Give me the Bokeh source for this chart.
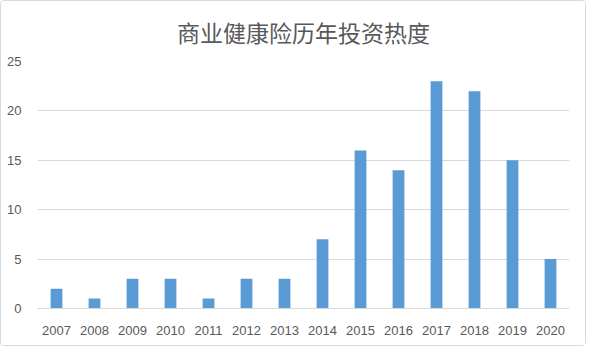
from bokeh.plotting import figure
from bokeh.models import ColumnDataSource, FactorRange, Range1d, FixedTicker
from bokeh.embed import file_html
from bokeh.resources import INLINE

years = ["2007", "2008", "2009", "2010", "2011", "2012", "2013",
         "2014", "2015", "2016", "2017", "2018", "2019", "2020"]
counts = [2, 1, 3, 3, 1, 3, 3, 7, 16, 14, 23, 22, 15, 5]
y_ticks = [0, 5, 10, 15, 20, 25]
title_text = "商业健康险历年投资热度"

src = ColumnDataSource(data=dict(year=years, count=counts))

p = figure(width=586, height=346, output_backend="svg", toolbar_location=None,
           x_range=FactorRange(*years), y_range=Range1d(0, 25),
           title=title_text)
p.min_border_left = 36
p.min_border_right = 18
p.min_border_top = 60
p.min_border_bottom = 39
p.outline_line_color = None
p.background_fill_color = "white"
p.border_fill_color = "white"
p.styles = {"border": "1px solid #d9d9d9", "border-radius": "4px"}

p.title.text_font = "Noto Sans CJK SC"
p.title.text_font_size = "23px"
p.title.text_font_style = "normal"
p.title.text_color = "#595959"
p.title.align = "center"
p.title.vertical_align = "top"
p.title.offset = -10
p.title.standoff = 22

p.vbar(x="year", top="count", width=0.31, source=src,
       fill_color="#5B9BD5", line_color=None)

p.xgrid.grid_line_color = None
p.ygrid.grid_line_color = "#d9d9d9"
p.ygrid.grid_line_width = 1
p.yaxis.ticker = FixedTicker(ticks=y_ticks)

for ax in (p.xaxis[0], p.yaxis[0]):
    ax.major_tick_line_color = None
    ax.minor_tick_line_color = None
    ax.major_label_text_font = "Liberation Sans"
    ax.major_label_text_font_size = "13px"
    ax.major_label_text_color = "#595959"
p.yaxis.axis_line_color = None
p.yaxis.major_label_standoff = 10
p.xaxis.axis_line_color = "#d9d9d9"
p.xaxis.major_label_standoff = 11
p.x_range.range_padding = 0
p.x_range.group_padding = 0

open("out.html", "w").write(file_html(p, INLINE))
